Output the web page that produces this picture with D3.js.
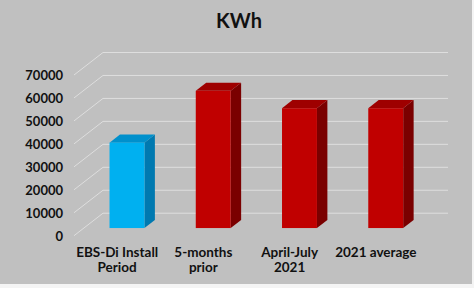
<!DOCTYPE html>
<html>
<head>
<meta charset="utf-8">
<script src="https://cdn.jsdelivr.net/npm/d3@7"></script>
<style>
  html, body { margin: 0; padding: 0; background: #ffffff; }
  svg { display: block; }
  text { font-family: Lato, "Open Sans", sans-serif; font-weight: 700; fill: #111; }
</style>
</head>
<body>
<svg id="chart" width="474" height="288"></svg>
<script>
// ---- data ----
const categories = [["EBS-Di Install", "Period"], ["5-months", "prior"], ["April-July", "2021"], ["2021 average"]];
const values = [37200, 59800, 52200, 52200];
const seriesColors = ["blue", "red", "red", "red"];
const yTicks = [0, 10000, 20000, 30000, 40000, 50000, 60000, 70000];
const title = "KWh";

// ---- layout ----
const W = 474, H = 288;
const svg = d3.select("#chart");
const palette = {
  blue: { front: "#00b0f0", side: "#0079b0", top: "#0090cc" },
  red:  { front: "#c00000", side: "#7a0000", top: "#9e0000" }
};

// background
svg.append("rect").attr("x", 0).attr("y", 0).attr("width", W).attr("height", H).attr("fill", "#f4f4f4");
svg.append("rect").attr("x", 0).attr("y", 0).attr("width", 472).attr("height", 284).attr("fill", "#c0c0c0");

// 3D geometry
const DX = 29, DY = -22.5;         // full depth offset
const z0 = 0.34, z1 = 0.70;        // bar depth range
const x = d3.scaleBand().domain(d3.range(categories.length)).range([74, 419]).padding(0);
const y = d3.scaleLinear().domain([0, 70000]).range([235.7, 75]); // front plane
const barW = x.bandwidth() * 0.405;

// gridlines
const grid = svg.append("g");
yTicks.forEach(t => {
  const yf = y(t), yb = yf + DY;
  grid.append("line").attr("x1", 74).attr("y1", yf).attr("x2", 74 + DX).attr("y2", yb)
    .attr("stroke", "#dedede").attr("stroke-width", 1);
  grid.append("line").attr("x1", 74 + DX).attr("y1", yb).attr("x2", 448).attr("y2", yb)
    .attr("stroke", "#dedede").attr("stroke-width", 1);
});

// y labels
svg.append("g").selectAll("text").data(yTicks).join("text")
  .attr("x", 63).attr("y", d => y(d)).attr("text-anchor", "end")
  .attr("dominant-baseline", "central").style("font-size", "13px")
  .text(d => d);

// bars
const bars = svg.append("g");
values.forEach((v, i) => {
  const c = palette[seriesColors[i]];
  const cx = x(i) + x.bandwidth() / 2;
  const ox = z0 * DX, oy = z0 * DY;
  const dx = (z1 - z0) * DX, dy = (z1 - z0) * DY;
  const xl = cx + ox - barW / 2, xr = xl + barW;
  const yb = y(0) + oy, yt = y(v) + oy;
  // side
  bars.append("path").attr("d", `M${xr},${yt}L${xr + dx},${yt + dy}L${xr + dx},${yb + dy}L${xr},${yb}Z`).attr("fill", c.side);
  // top
  bars.append("path").attr("d", `M${xl},${yt}L${xl + dx},${yt + dy}L${xr + dx},${yt + dy}L${xr},${yt}Z`).attr("fill", c.top);
  // front
  bars.append("rect").attr("x", xl).attr("y", yt).attr("width", barW).attr("height", yb - yt).attr("fill", c.front);
});

// category labels
const cat = svg.append("g");
categories.forEach((lines, i) => {
  const t = cat.append("text").attr("x", x(i) + x.bandwidth() / 2).attr("y", 257.3)
    .attr("text-anchor", "middle").style("font-size", "13.5px");
  lines.forEach((ln, j) => {
    t.append("tspan").attr("x", x(i) + x.bandwidth() / 2).attr("dy", j === 0 ? 0 : 15).text(ln);
  });
});

// title
svg.append("text").attr("x", 239).attr("y", 28.3).attr("text-anchor", "middle")
  .style("font-size", "20px").text(title);
</script>
</body>
</html>
